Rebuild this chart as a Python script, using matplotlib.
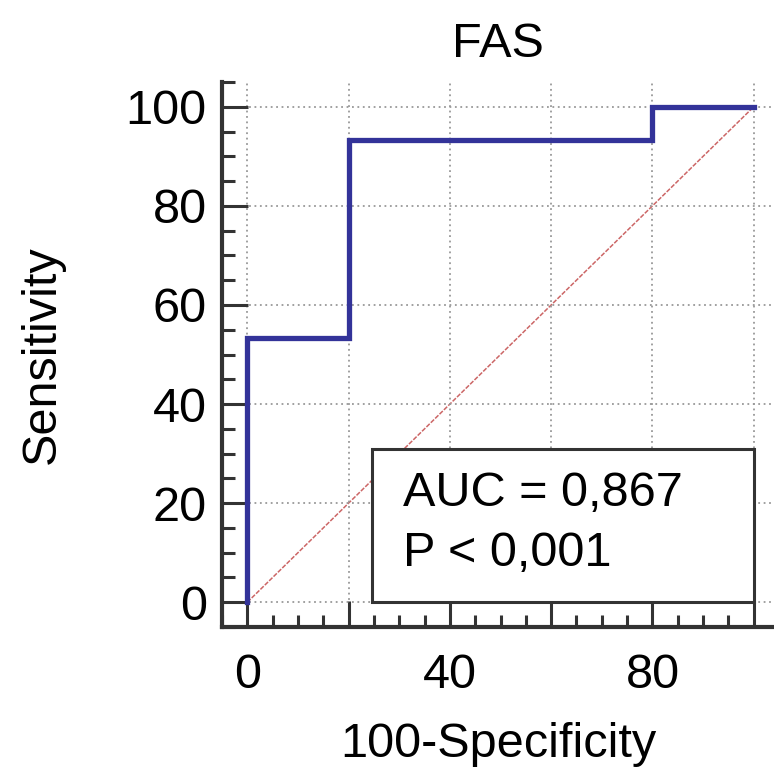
import matplotlib
matplotlib.use("Agg")
import matplotlib.pyplot as plt
from matplotlib.patches import Rectangle
from matplotlib.ticker import MultipleLocator, FuncFormatter

# ROC curve points (100-Specificity, Sensitivity)
fpr = [0, 0, 20, 20, 80, 80, 100]
tpr = [0, 53.33, 53.33, 93.33, 93.33, 100, 100]
auc_text = "AUC = 0,867"
p_text = "P < 0,001"
x_labels_shown = [0, 40, 80]

plt.rcParams['font.family'] = ['Liberation Sans', 'DejaVu Sans']
FS = 35
DARK = '#333333'

fig = plt.figure(figsize=(7.74, 7.71), dpi=100)
ax = fig.add_axes([222 / 774, 1 - 627 / 771, 552 / 774, 545 / 771])

ax.set_xlim(-5, 104)
ax.set_ylim(-5, 105)

# grid and reference diagonal
ax.grid(True, which='major', color='#999999', linestyle=(0, (1, 2)), linewidth=1.3, zorder=0)
ax.plot([0, 100], [0, 100], color='#cc6666', linestyle=(0, (3, 1)), linewidth=1.1, zorder=1)

# roc curve
ax.plot(fpr, tpr, color='#333399', linewidth=3.8, solid_joinstyle='miter', zorder=5)

# result box
ax.add_patch(Rectangle((24.6, 0), 75.4, 30.9, facecolor='white', edgecolor=DARK,
                       linewidth=2.2, zorder=3))
ax.text(30.8, 22.0, auc_text, fontsize=FS, va='center', ha='left', zorder=4)
ax.text(30.8, 9.8, p_text, fontsize=FS, va='center', ha='left', zorder=4)

# spines
for s in ['top', 'right']:
    ax.spines[s].set_visible(False)
for s in ['left', 'bottom']:
    ax.spines[s].set_color(DARK)
    ax.spines[s].set_linewidth(3)

ax.xaxis.set_major_locator(MultipleLocator(20))
ax.xaxis.set_minor_locator(MultipleLocator(5))
ax.yaxis.set_major_locator(MultipleLocator(20))
ax.yaxis.set_minor_locator(MultipleLocator(5))
ax.xaxis.set_major_formatter(FuncFormatter(
    lambda v, p: f"{v:.0f}" if round(v) in x_labels_shown else ""))

ax.tick_params(which='major', direction='in', length=19, width=2.2, color=DARK,
               labelsize=FS)
ax.tick_params(which='minor', direction='in', length=9, width=2.2, color=DARK)
ax.tick_params(axis='y', pad=11)
ax.tick_params(axis='x', pad=19)

ax.set_xlabel("100-Specificity", fontsize=FS, labelpad=17)
ax.set_ylabel("Sensitivity", fontsize=FS, labelpad=44)
ax.set_title("FAS", fontsize=FS, pad=18)

fig.savefig("out.png", dpi=100)
